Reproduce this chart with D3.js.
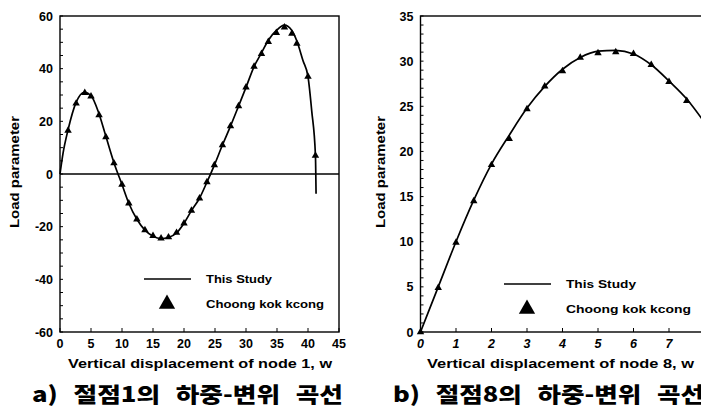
<!DOCTYPE html>
<html>
<head>
<meta charset="utf-8">
<script src="https://cdn.jsdelivr.net/npm/d3@7"></script>
<style>
  body { margin: 0; background: #fff; }
  svg { display: block; overflow: hidden; }
  text { font-family: "Liberation Sans", Arial, sans-serif; font-weight: bold; fill: #000; }
  .kr { font-family: "Noto Sans CJK KR", sans-serif; font-weight: 900; }
</style>
</head>
<body>
<div id="chart"></div>
<script>
// ---- data: panel a) node 1 ----
var markX1 = [1.3, 2.6, 4.0, 5.0, 6.3, 7.4, 8.7, 10.0, 11.1, 12.4, 13.7, 15.0, 16.3, 17.5, 18.8, 20.0, 21.2, 22.5, 23.7, 24.9, 26.2, 27.5, 28.8, 30.0, 31.3, 32.5, 33.6, 34.9, 36.2, 37.4, 38.2, 40.0, 41.2];
var markY1 = [16.5, 26.8, 30.8, 29.5, 22.4, 14.0, 4.1, -4.0, -11.1, -17.2, -21.3, -23.5, -24.4, -24.0, -22.3, -18.7, -13.9, -9.2, -3.1, 3.4, 11.0, 18.2, 25.8, 32.9, 40.8, 45.6, 50.2, 53.6, 55.7, 53.3, 49.5, 37.0, 7.0];
var lineX1 = [0, 0.5, 1.3, 2.6, 3.9, 5.0, 6.3, 7.4, 8.7, 10.0, 11.1, 12.4, 13.7, 15.0, 16.3, 17.5, 18.8, 20.0, 21.2, 22.5, 23.7, 24.9, 26.2, 27.5, 28.8, 30.0, 31.3, 32.5, 33.6, 34.9, 36.2, 37.4, 38.2, 39.2, 40.0, 40.6, 41.2, 41.3];
var lineY1 = [0, 8.0, 16.8, 27.2, 31.0, 29.8, 22.8, 14.3, 4.3, -4.0, -11.1, -17.2, -21.3, -23.6, -24.5, -24.1, -22.4, -18.7, -13.9, -9.2, -3.1, 3.4, 11.0, 18.2, 25.8, 32.9, 40.8, 46.0, 50.8, 54.5, 56.5, 54.5, 50.5, 43.0, 37.0, 24.0, 7.0, -7.5];
var xTicks1 = [0, 5, 10, 15, 20, 25, 30, 35, 40, 45];
var yTicks1 = [-60, -40, -20, 0, 20, 40, 60];

// ---- data: panel b) node 8 ----
var markX2 = [0, 0.5, 1.0, 1.5, 2.0, 2.5, 3.0, 3.5, 4.0, 4.5, 5.0, 5.5, 6.0, 6.5, 7.0, 7.5];
var markY2 = [0, 4.9, 9.9, 14.5, 18.5, 21.4, 24.7, 27.2, 28.9, 30.4, 30.9, 31.0, 30.8, 29.6, 27.7, 25.6];
var lineX2 = [0, 0.5, 1.0, 1.5, 2.0, 2.5, 3.0, 3.5, 4.0, 4.5, 5.0, 5.5, 6.0, 6.5, 7.0, 7.5, 8.0];
var lineY2 = [0, 5.0, 10.0, 14.6, 18.6, 21.8, 24.8, 27.2, 29.1, 30.4, 31.1, 31.2, 30.8, 29.6, 27.8, 25.8, 23.2];
var xTicks2 = [0, 1, 2, 3, 4, 5, 6, 7, 8];
var yTicks2 = [0, 5, 10, 15, 20, 25, 30, 35];

var svg = d3.select("#chart").append("svg")
    .attr("width", 701)
    .attr("height", 413);

function drawPanel(o) {
    var x = d3.scaleLinear().domain(o.xDom).range(o.xRange);
    var y = d3.scaleLinear().domain(o.yDom).range([332, 16]);
    var g = svg.append("g");

    // frame
    g.append("rect")
        .attr("x", o.xRange[0]).attr("y", 16)
        .attr("width", o.xRange[1] - o.xRange[0]).attr("height", 316)
        .attr("fill", "none").attr("stroke", "#000").attr("stroke-width", 1.4);

    // y axis ticks (inside)
    var minorY = d3.range(o.yDom[0], o.yDom[1] + 0.001, o.yMinor);
    g.selectAll(".ymin").data(minorY).enter().append("line")
        .attr("x1", o.xRange[0]).attr("x2", o.xRange[0] + 3)
        .attr("y1", function (d) { return y(d) }).attr("y2", function (d) { return y(d) })
        .attr("stroke", "#000").attr("stroke-width", 1);
    g.selectAll(".ylab").data(o.yTicks).enter().append("text")
        .attr("x", o.xRange[0] - 7)
        .attr("y", function (d) { return y(d) + 4.5 })
        .attr("text-anchor", "end")
        .style("font-size", "12.5px")
        .text(function (d) { return d });

    // x axis ticks
    g.selectAll(".xtk").data(o.xTicks).enter().append("line")
        .attr("x1", function (d) { return x(d) }).attr("x2", function (d) { return x(d) })
        .attr("y1", 332).attr("y2", 328)
        .attr("stroke", "#000").attr("stroke-width", 1);
    g.selectAll(".xlab").data(o.xTicks).enter().append("text")
        .attr("x", function (d) { return x(d) })
        .attr("y", 348)
        .attr("text-anchor", "middle")
        .style("font-size", "12.5px")
        .style("font-style", o.italic ? "italic" : "normal")
        .text(function (d) { return d });

    // zero line
    if (o.zeroLine) {
        g.append("line")
            .attr("x1", o.xRange[0]).attr("x2", o.xRange[1])
            .attr("y1", y(0)).attr("y2", y(0))
            .attr("stroke", "#000").attr("stroke-width", 1.4);
    }

    // This Study line
    var pts = o.lineX.map(function (d, i) { return [d, o.lineY[i]] });
    g.append("path")
        .datum(pts)
        .attr("fill", "none")
        .attr("stroke", "#000")
        .attr("stroke-width", 1.7)
        .attr("d", d3.line()
            .x(function (d) { return x(d[0]) })
            .y(function (d) { return y(d[1]) })
            .curve(d3.curveMonotoneX));

    // Choong kok kcong markers
    var tri = d3.symbol().type(d3.symbolTriangle).size(24);
    g.selectAll(".mk").data(o.markX).enter().append("path")
        .attr("d", tri)
        .attr("transform", function (d, i) { return "translate(" + x(d) + "," + y(o.markY[i]) + ")" })
        .attr("fill", "#000");

    // legend
    g.append("line")
        .attr("x1", o.leg[0]).attr("x2", o.leg[0] + 47)
        .attr("y1", o.leg[1]).attr("y2", o.leg[1])
        .attr("stroke", "#000").attr("stroke-width", 1.6);
    g.append("path")
        .attr("d", d3.symbol().type(d3.symbolTriangle).size(115))
        .attr("transform", "translate(" + (o.leg[0] + 23) + "," + (o.leg[1] + 25) + ")")
        .attr("fill", "#000");
    g.append("text")
        .attr("x", o.leg[0] + 62).attr("y", o.leg[1] + 4)
        .attr("textLength", o.legW[0]).attr("lengthAdjust", "spacingAndGlyphs")
        .style("font-size", "11.5px")
        .text("This Study");
    g.append("text")
        .attr("x", o.leg[0] + 62).attr("y", o.leg[1] + 29)
        .attr("textLength", o.legW[1]).attr("lengthAdjust", "spacingAndGlyphs")
        .style("font-size", "11.5px")
        .text("Choong kok kcong");

    // axis titles
    g.append("text")
        .attr("transform", "translate(" + o.yTitleX + ",172) rotate(-90)")
        .attr("text-anchor", "middle")
        .attr("textLength", 112).attr("lengthAdjust", "spacingAndGlyphs")
        .style("font-size", "13px")
        .text("Load parameter");
    g.append("text")
        .attr("x", o.xTitle[0]).attr("y", 368)
        .attr("textLength", o.xTitle[1]).attr("lengthAdjust", "spacingAndGlyphs")
        .style("font-size", "13.5px")
        .text(o.xTitleText);

    // caption
    g.append("text")
        .attr("class", "kr")
        .attr("x", o.cap[0]).attr("y", 402)
        .attr("textLength", 311).attr("lengthAdjust", "spacingAndGlyphs")
        .style("font-size", "21px")
        .style("word-spacing", "8px")
        .text(o.capText);
}

drawPanel({
    xDom: [0, 45], xRange: [60, 339], yDom: [-60, 60], yMinor: 5,
    xTicks: xTicks1, yTicks: yTicks1, zeroLine: true, italic: false,
    lineX: lineX1, lineY: lineY1, markX: markX1, markY: markY1,
    leg: [144, 279], legW: [66, 118],
    yTitleX: 19, xTitle: [68, 264], xTitleText: "Vertical displacement of node 1, w",
    cap: [32, 0], capText: "a) 절점1의 하중-변위 곡선"
});

drawPanel({
    xDom: [0, 8], xRange: [420.5, 704.5], yDom: [0, 35], yMinor: 1,
    xTicks: xTicks2, yTicks: yTicks2, zeroLine: false, italic: true,
    lineX: lineX2, lineY: lineY2, markX: markX2, markY: markY2,
    leg: [504, 284], legW: [70, 125],
    yTitleX: 385, xTitle: [427, 267], xTitleText: "Vertical displacement of node 8, w",
    cap: [393, 0], capText: "b) 절점8의 하중-변위 곡선"
});
</script>
</body>
</html>
